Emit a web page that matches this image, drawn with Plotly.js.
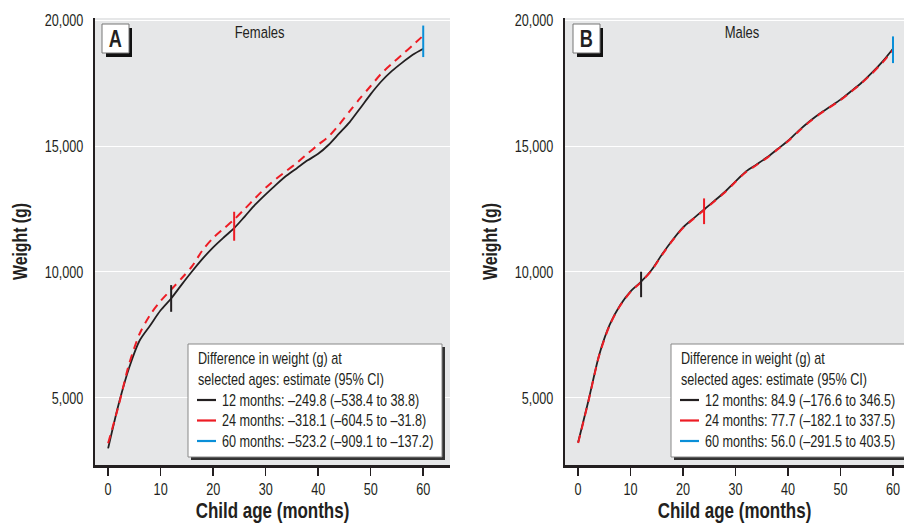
<!DOCTYPE html>
<html>
<head>
<meta charset="utf-8">
<script src="https://cdn.plot.ly/plotly-3.0.1.min.js"></script>
<style>
html,body{margin:0;padding:0;background:#fff;}
#chart{width:904px;height:523px;}
</style>
</head>
<body>
<div id="chart"></div>
<script>
// ---------- data ----------
const ages = [0,2,4,6,8,10,12,14,16,18,20,22,24,26,28,30,32,34,36,38,40,42,44,46,48,50,52,54,56,58,60];

const femalesSolid = [3000,4750,6200,7280,7880,8480,8950,9500,10030,10530,10980,11370,11740,12200,12670,13080,13470,13830,14130,14430,14690,15050,15500,15950,16500,17060,17560,17970,18310,18620,18860];
const femalesDashed = [3200,4700,6350,7550,8300,8850,9300,9750,10230,10870,11350,11720,12080,12500,12930,13340,13700,14020,14340,14700,15050,15380,15850,16380,16900,17380,17870,18260,18630,19000,19380];

const malesSolid = [3230,4920,6700,7900,8680,9230,9615,10080,10700,11270,11770,12130,12480,12830,13185,13600,13990,14265,14550,14880,15210,15600,15960,16280,16560,16840,17170,17510,17910,18350,18860];
const malesDashed = [3210,4900,6680,7880,8660,9210,9600,10060,10680,11250,11750,12110,12460,12810,13165,13580,13970,14245,14530,14860,15190,15580,15940,16260,16540,16820,17150,17490,17880,18310,18800];

// selected-age markers (age, low, high)
const markerAges = [12, 24, 60];
const femalesMarkerLow  = [8420, 11240, 18530];
const femalesMarkerHigh = [9480, 12390, 19780];
const malesMarkerLow  = [9000, 11900, 18290];
const malesMarkerHigh = [10010, 12920, 19350];

const xTicks = [0,10,20,30,40,50,60];
const yTicks = [5000,10000,15000,20000];

const panelTitles = ['Females','Males'];
const panelLetters = ['A','B'];
const legendHeader = ['Difference in weight (g) at','selected ages: estimate (95% CI)'];
const femalesLegend = ['12 months: \u2013249.8 (\u2013538.4 to 38.8)','24 months: \u2013318.1 (\u2013604.5 to \u201331.8)','60 months: \u2013523.2 (\u2013909.1 to \u2013137.2)'];
const malesLegend = ['12 months: 84.9 (\u2013176.6 to 346.5)','24 months: 77.7 (\u2013182.1 to 337.5)','60 months: 56.0 (\u2013291.5 to 403.5)'];

// ---------- styling ----------
const FONT = 'Liberation Sans, Arial, sans-serif';
const SQUEEZE = 0.79;   // horizontal condensing of all texts (narrow type look)
const TXT = '#231f20';
const BLACK = '#231f20', RED = '#ed1c24', BLUE = '#0a8fd8';
const markerColors = [BLACK, RED, BLUE];

const L = 95, T = 18, PW = 809, PH = 447;
const X = px => (px - L) / PW;
const Y = py => (T + PH - py) / PH;

const traces = [];
function addPanel(solid, dashed, lo, hi, xa, ya) {
  traces.push({x: ages, y: solid, xaxis: xa, yaxis: ya, type: 'scatter', mode: 'lines',
    line: {color: BLACK, width: 1.8, shape: 'spline', smoothing: 0.8}, hoverinfo: 'skip', showlegend: false});
  traces.push({x: ages, y: dashed, xaxis: xa, yaxis: ya, type: 'scatter', mode: 'lines',
    line: {color: RED, width: 2, dash: '8px,6px', shape: 'spline', smoothing: 0.8}, hoverinfo: 'skip', showlegend: false});
  for (let i = 0; i < markerAges.length; i++) {
    traces.push({x: [markerAges[i], markerAges[i]], y: [lo[i], hi[i]], xaxis: xa, yaxis: ya,
      type: 'scatter', mode: 'lines', line: {color: markerColors[i], width: 2},
      hoverinfo: 'skip', showlegend: false});
  }
}
addPanel(femalesSolid, femalesDashed, femalesMarkerLow, femalesMarkerHigh, 'x', 'y');
addPanel(malesSolid, malesDashed, malesMarkerLow, malesMarkerHigh, 'x2', 'y2');

const yRange = [2340, 20080];
function xAxis(domain, range) {
  return {domain: domain, range: range, tickvals: xTicks, ticks: 'outside', ticklen: 8, tickwidth: 1.5,
    tickcolor: TXT, showline: true, linecolor: TXT, linewidth: 2.5, showgrid: false, zeroline: false,
    tickfont: {family: FONT, size: 16, color: TXT},
    title: {text: 'Child age (months)', font: {family: FONT, size: 21.5, color: TXT, weight: 'bold'}, standoff: 13}};
}
function yAxis(anchor) {
  return {anchor: anchor, range: yRange, tickvals: yTicks, tickformat: ',d', ticks: '', showline: true,
    linecolor: TXT, linewidth: 2.5, showgrid: true, gridcolor: '#ffffff', gridwidth: 1, zeroline: false,
    ticklabelstandoff: 6, tickfont: {family: FONT, size: 16, color: TXT},
    title: {text: 'Weight (g)', font: {family: FONT, size: 20, color: TXT, weight: 'bold'}, standoff: 2}};
}

const shapes = [];
const annotations = [];
const leftTexts = new Set();

function panelDecor(idx, boxL, titleCx, legL, legR, legendLabels) {
  // panel letter box with shadow
  shapes.push({type: 'rect', xref: 'paper', yref: 'paper', x0: X(boxL + 4), x1: X(boxL + 30), y0: Y(57), y1: Y(28),
    fillcolor: '#111', line: {width: 0}, layer: 'above'});
  shapes.push({type: 'rect', xref: 'paper', yref: 'paper', x0: X(boxL), x1: X(boxL + 27), y0: Y(53), y1: Y(24),
    fillcolor: '#fff', line: {color: '#777', width: 1}, layer: 'above'});
  annotations.push({xref: 'paper', yref: 'paper', x: X(boxL + 13.5), y: Y(39), text: panelLetters[idx],
    showarrow: false, xanchor: 'center', yanchor: 'middle', font: {family: FONT, size: 23, color: TXT, weight: 'bold'}});
  annotations.push({xref: 'paper', yref: 'paper', x: X(titleCx), y: Y(32), text: panelTitles[idx],
    showarrow: false, xanchor: 'center', yanchor: 'middle', font: {family: FONT, size: 16.5, color: TXT}});
  // legend box with shadow
  shapes.push({type: 'rect', xref: 'paper', yref: 'paper', x0: X(legL + 3), x1: X(legR + 3), y0: Y(460), y1: Y(347),
    fillcolor: '#333', line: {width: 0}, layer: 'above'});
  shapes.push({type: 'rect', xref: 'paper', yref: 'paper', x0: X(legL), x1: X(legR), y0: Y(457), y1: Y(344),
    fillcolor: '#fff', line: {color: '#888', width: 1}, layer: 'above'});
  const textL = legL + 8;
  const rows = [358.5, 379, 400, 420.5, 441];
  for (let i = 0; i < 2; i++) {
    leftTexts.add(legendHeader[i]);
    annotations.push({xref: 'paper', yref: 'paper', x: X(textL), y: Y(rows[i]), text: legendHeader[i],
      showarrow: false, xanchor: 'left', yanchor: 'middle', font: {family: FONT, size: 16, color: TXT}});
  }
  for (let i = 0; i < 3; i++) {
    shapes.push({type: 'line', xref: 'paper', yref: 'paper', x0: X(textL + 1), x1: X(textL + 20), y0: Y(rows[i + 2]), y1: Y(rows[i + 2]),
      line: {color: markerColors[i], width: 2.2}, layer: 'above'});
    leftTexts.add(legendLabels[i]);
    annotations.push({xref: 'paper', yref: 'paper', x: X(textL + 24), y: Y(rows[i + 2]), text: legendLabels[i],
      showarrow: false, xanchor: 'left', yanchor: 'middle', font: {family: FONT, size: 16, color: TXT}});
  }
}
panelDecor(0, 102, 259, 188, 442, femalesLegend);
panelDecor(1, 573, 742, 671, 915, malesLegend);

const layout = {
  width: 904, height: 523,
  margin: {l: L, r: 0, t: T, b: 523 - T - PH, pad: 0},
  paper_bgcolor: '#ffffff', plot_bgcolor: '#e6e7e8',
  showlegend: false,
  xaxis: xAxis([0, 355 / PW], [-2.5, 65.1]),
  yaxis: yAxis('x'),
  xaxis2: Object.assign(xAxis([470 / PW, 1], [-2.5, 62.1]), {anchor: 'y2'}),
  yaxis2: yAxis('x2'),
  shapes: shapes,
  annotations: annotations,
  font: {family: FONT, color: TXT}
};

const gd = document.getElementById('chart');
Plotly.newPlot(gd, traces, layout, {staticPlot: true, displayModeBar: false}).then(function () {
  // condense the type horizontally (about its anchor) to mimic the narrow face of the original
  gd.querySelectorAll('svg text').forEach(function (t) {
    if (!t.textContent) return;
    const isAnn = t.classList.contains('annotation-text');
    if (isAnn && leftTexts.has(t.textContent)) {
      const bb = t.getBBox();
      t.setAttribute('text-anchor', 'start');
      t.setAttribute('x', bb.x);
    }
    const ax = parseFloat(t.getAttribute('x')) || 0;
    const prev = t.getAttribute('transform') || '';
    t.setAttribute('transform', (prev + ' translate(' + (ax * (1 - SQUEEZE)).toFixed(3) + ',0) scale(' + SQUEEZE + ',1)').trim());
    if (isAnn) {
      const bg = t.parentNode.querySelector('rect.bg');
      if (bg) {
        const w = parseFloat(bg.getAttribute('width')) || 0;
        const x0 = parseFloat(bg.getAttribute('x')) || 0;
        if (leftTexts.has(t.textContent)) {
          bg.setAttribute('width', (w * SQUEEZE).toFixed(2));
        } else {
          const c = x0 + w / 2;
          bg.setAttribute('x', (c - w * SQUEEZE / 2).toFixed(2));
          bg.setAttribute('width', (w * SQUEEZE).toFixed(2));
        }
      }
    }
  });
});
</script>
</body>
</html>
